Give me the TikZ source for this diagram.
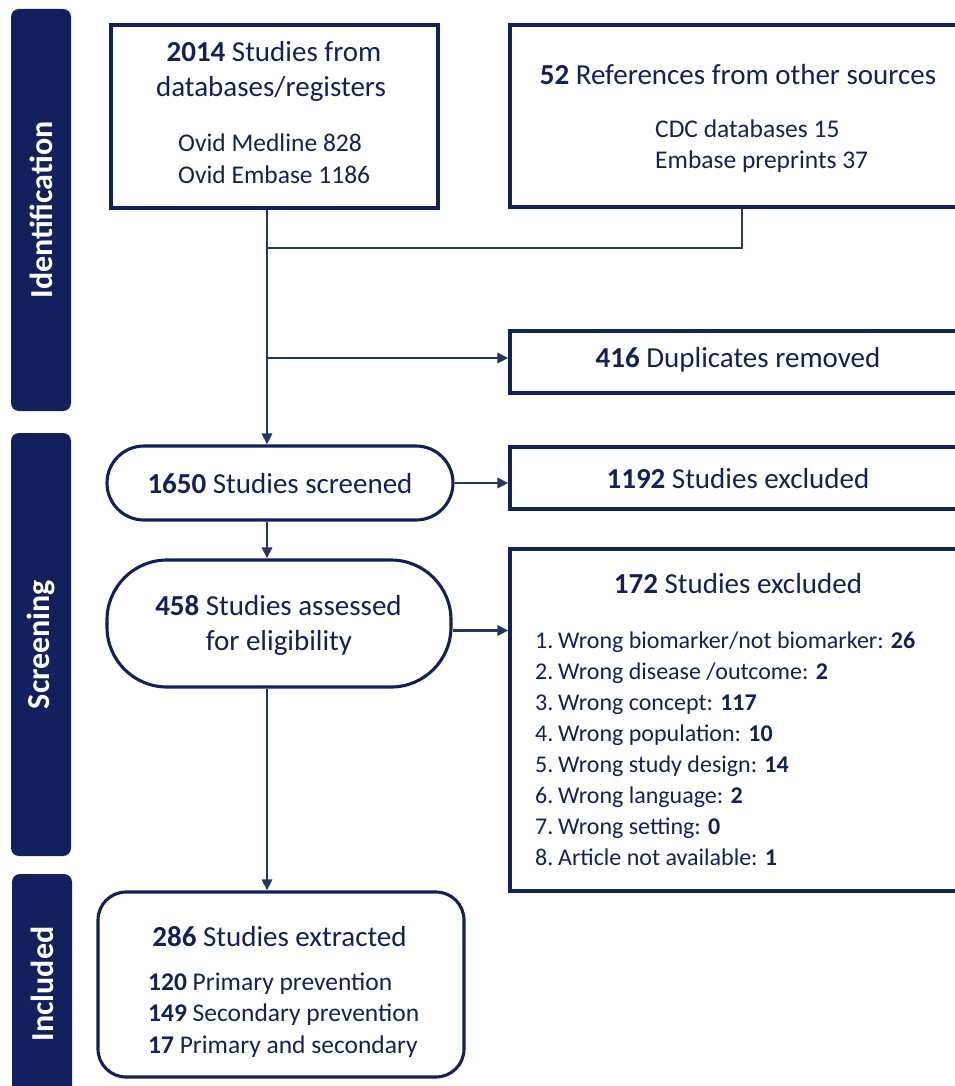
\documentclass[tikz,border=0pt]{standalone}
\usepackage{fontspec}
\setmainfont{Carlito}
\usetikzlibrary{arrows.meta}
\definecolor{navy}{HTML}{12215E}
\definecolor{conn}{HTML}{223862}
\newcommand\fbig{\fontsize{29}{35}\selectfont}
\newcommand\fsub{\fontsize{25.5}{31}\selectfont}
\newcommand\flist{\fontsize{24}{31}\selectfont}
\newcommand\fbar{\fontsize{32}{38}\selectfont\bfseries}
\begin{document}
\begin{tikzpicture}[x=1pt,y=-1pt,
  boxst/.style={draw=navy,line width=3.1pt,inner sep=0pt,minimum height=62pt},
  barst/.style={fill=navy,rounded corners=8pt,rotate=90,text=white,font=\fbar,inner sep=0pt,minimum height=60pt},
  big/.style={text=navy,font=\fbig,inner sep=0pt,anchor=base},
  sub/.style={text=navy,font=\fsub,inner sep=0pt,anchor=base west},
  lst/.style={text=navy,font=\flist,inner sep=0pt,anchor=base west},
  conline/.style={draw=conn,line width=2.7pt},
  arr/.style={conline,-{Triangle[length=11pt,width=10pt]}}]
\useasboundingbox (0,0) rectangle (954,1086);

% phase bars
\node[barst,minimum width=402pt] (barid) at (41,210) {Identification};
\node[barst,minimum width=423pt] (barsc) at (41,644.5) {Screening};
\node[barst,minimum width=220pt] (barin) at (42,984) {Included};

% boxes
\node[boxst,minimum width=327pt,minimum height=183pt] (b1) at (274.5,116.5) {};
\node[boxst,minimum width=454pt,minimum height=182pt] (b2) at (737,116) {};
\node[boxst,minimum width=454pt] (dup) at (737,362) {};
\node[boxst,minimum width=346pt,minimum height=74pt,rounded corners=37pt] (sc) at (280,483) {};
\node[boxst,minimum width=454pt] (ex1) at (737,478) {};
\node[boxst,minimum width=344pt,minimum height=127pt,rounded corners=60pt] (as) at (279,623.5) {};
\node[boxst,minimum width=454pt,minimum height=342pt] (ex2) at (737,720) {};
\node[boxst,minimum width=366pt,minimum height=185pt,rounded corners=28pt] (inc) at (281,984.5) {};

% texts
\node[big] (t1) at (274,62) {\textbf{2014} Studies from};
\node[big] (t2) at (271,97) {databases/registers};
\node[sub] (t3) at (178,152) {Ovid Medline 828};
\node[sub] (t4) at (178,183) {Ovid Embase 1186};

\node[big] (r1) at (738,85) {\textbf{52} References from other sources};
\node[sub] (r2) at (655,138) {CDC databases 15};
\node[sub] (r3) at (655,168) {Embase preprints 37};

\node[big] (d1) at (738,367) {\textbf{416} Duplicates removed};
\node[big] (s1) at (280,493) {\textbf{1650} Studies screened};
\node[big] (e1) at (738,488) {\textbf{1192} Studies excluded};
\node[big] (a1) at (278.5,615) {\textbf{458} Studies assessed};
\node[big] (a2) at (279,650) {for eligibility};
\node[big] (e2) at (738,593) {\textbf{172} Studies excluded};

\node[lst] (l1) at (535,648) {\makebox[23pt][l]{1.}Wrong biomarker/not biomarker: \textbf{26}};
\node[lst] (l2) at (535,679) {\makebox[23pt][l]{2.}Wrong disease /outcome: \textbf{2}};
\node[lst] (l3) at (535,710) {\makebox[23pt][l]{3.}Wrong concept: \textbf{117}};
\node[lst] (l4) at (535,741) {\makebox[23pt][l]{4.}Wrong population: \textbf{10}};
\node[lst] (l5) at (535,772) {\makebox[23pt][l]{5.}Wrong study design: \textbf{14}};
\node[lst] (l6) at (535,803) {\makebox[23pt][l]{6.}Wrong language: \textbf{2}};
\node[lst] (l7) at (535,834) {\makebox[23pt][l]{7.}Wrong setting: \textbf{0}};
\node[lst] (l8) at (535,865) {\makebox[23pt][l]{8.}Article not available: \textbf{1}};

\node[big] (i1) at (279.5,946) {\textbf{286} Studies extracted};
\node[sub] (i2) at (148,990) {\textbf{120} Primary prevention};
\node[sub] (i3) at (148,1021) {\textbf{149} Secondary prevention};
\node[sub] (i4) at (148,1053) {\textbf{17} Primary and secondary};

% connectors
\coordinate (sp) at (267,0);
\coordinate (m2) at (742,0);
\coordinate (j1) at (267,248);
\coordinate (j2) at (267,358);
\draw[arr] (b1.south -| sp) -- (sc.north -| sp);
\draw[conline] (b2.south -| m2) |- (j1);
\draw[arr] (j2) -- (j2 -| dup.west);
\draw[arr] (sc.east) -- (sc.east -| ex1.west);
\draw[arr] (sc.south -| sp) -- (as.north -| sp);
\draw[arr] ([yshift=-7pt]as.east) -- ([yshift=-7pt]as.east -| ex2.west);
\draw[arr] (as.south -| sp) -- (inc.north -| sp);
\end{tikzpicture}
\end{document}
